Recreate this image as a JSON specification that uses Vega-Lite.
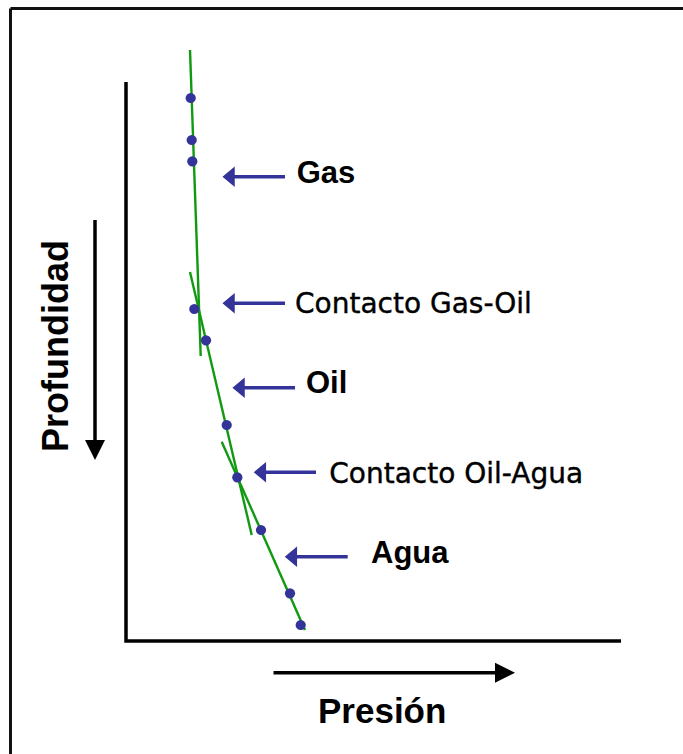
{
  "$schema": "https://vega.github.io/schema/vega-lite/v6.json",
  "width": 683,
  "height": 754,
  "autosize": {"type": "none"},
  "padding": 0,
  "background": "white",
  "config": {"view": {"stroke": null}},
  "datasets": {
    "frame": [
      {"x": -57.75, "x2": 278.5, "y": -36.75, "y2": -36.75},
      {"x": -57.75, "x2": -57.75, "y": -36.75, "y2": 336}
    ],
    "axes": [
      {"presion": 0, "profundidad": 0, "o": 1},
      {"presion": 0, "profundidad": 279.5, "o": 2},
      {"presion": 247.5, "profundidad": 279.5, "o": 3}
    ],
    "tendencias": [
      {"zona": "Gas", "x": 32, "y": -16, "x2": 37.35, "y2": 137},
      {"zona": "Oil", "x": 32, "y": 95, "x2": 62.85, "y2": 226.5},
      {"zona": "Agua", "x": 47.85, "y": 179.85, "x2": 89.5, "y2": 274}
    ],
    "mediciones": [
      {"presion": 32.35, "profundidad": 8},
      {"presion": 32.85, "profundidad": 29},
      {"presion": 33.15, "profundidad": 39.65},
      {"presion": 34.15, "profundidad": 113.5},
      {"presion": 40, "profundidad": 129.15},
      {"presion": 50.35, "profundidad": 171.5},
      {"presion": 55.65, "profundidad": 197.65},
      {"presion": 67.5, "profundidad": 224},
      {"presion": 82, "profundidad": 255.65},
      {"presion": 87.35, "profundidad": 271.5}
    ],
    "flechas": [
      {"head": 53.35, "tail": 79.5, "y": 47.35},
      {"head": 53.35, "tail": 79.5, "y": 110.65},
      {"head": 58.35, "tail": 84.5, "y": 152.85},
      {"head": 69, "tail": 95, "y": 195.15},
      {"head": 84.5, "tail": 110.85, "y": 237.35}
    ],
    "etiquetas_bold": [
      {"x": 85.35, "y": 50.65, "t": "Gas"},
      {"x": 90, "y": 155.65, "t": "Oil"},
      {"x": 122.5, "y": 240.35, "t": "Agua"}
    ],
    "etiquetas_contacto": [
      {"x": 84.5, "y": 115.65, "t": "Contacto Gas-Oil"},
      {"x": 101.65, "y": 200.35, "t": "Contacto Oil-Agua"}
    ],
    "titulo_x": [{"x": 96, "y": 320.5, "t": "Presión"}],
    "titulo_y": [{"x": -29.25, "y": 185, "t": "Profundidad"}],
    "flecha_x": [{"x": 73.75, "x2": 189.5, "y": 295.35}],
    "flecha_y": [{"x": -15.5, "y": 69, "y2": 184}]
  },
  "layer": [
    {
      "data": {"name": "frame"},
      "mark": {"type": "rule", "color": "#111111", "strokeWidth": 3},
      "encoding": {
        "x": {"field": "x", "type": "quantitative", "scale": {"domain": [-63, 278.5], "nice": false, "zero": false}, "axis": null},
        "x2": {"field": "x2"},
        "y": {"field": "y", "type": "quantitative", "scale": {"domain": [-41, 336], "nice": false, "zero": false, "reverse": true}, "axis": null},
        "y2": {"field": "y2"}
      }
    },
    {
      "data": {"name": "axes"},
      "mark": {"type": "line", "color": "black", "strokeWidth": 3.5, "strokeJoin": "miter"},
      "encoding": {
        "x": {"field": "presion", "type": "quantitative", "scale": {"domain": [-63, 278.5], "nice": false, "zero": false}, "axis": null},
        "y": {"field": "profundidad", "type": "quantitative", "scale": {"domain": [-41, 336], "nice": false, "zero": false, "reverse": true}, "axis": null},
        "order": {"field": "o", "type": "quantitative"}
      }
    },
    {
      "data": {"name": "tendencias"},
      "mark": {"type": "rule", "color": "#119a11", "strokeWidth": 2.4},
      "encoding": {
        "x": {"field": "x", "type": "quantitative", "scale": {"domain": [-63, 278.5], "nice": false, "zero": false}, "axis": null},
        "x2": {"field": "x2"},
        "y": {"field": "y", "type": "quantitative", "scale": {"domain": [-41, 336], "nice": false, "zero": false, "reverse": true}, "axis": null},
        "y2": {"field": "y2"}
      }
    },
    {
      "data": {"name": "mediciones"},
      "mark": {"type": "point", "shape": "circle", "filled": true, "opacity": 1, "color": "#333399", "size": 105},
      "encoding": {
        "x": {"field": "presion", "type": "quantitative", "scale": {"domain": [-63, 278.5], "nice": false, "zero": false}, "axis": null},
        "y": {"field": "profundidad", "type": "quantitative", "scale": {"domain": [-41, 336], "nice": false, "zero": false, "reverse": true}, "axis": null}
      }
    },
    {
      "data": {"name": "flechas"},
      "mark": {"type": "rule", "color": "#333399", "strokeWidth": 3.5},
      "encoding": {
        "x": {"field": "head", "type": "quantitative", "scale": {"domain": [-63, 278.5], "nice": false, "zero": false}, "axis": null},
        "x2": {"field": "tail"},
        "y": {"field": "y", "type": "quantitative", "scale": {"domain": [-41, 336], "nice": false, "zero": false, "reverse": true}, "axis": null}
      }
    },
    {
      "data": {"name": "flechas"},
      "mark": {"type": "point", "shape": "M -1 0 L 0.2 -1 L 0.2 1 Z", "filled": true, "opacity": 1, "color": "#333399", "size": 420},
      "encoding": {
        "x": {"field": "head", "type": "quantitative", "scale": {"domain": [-63, 278.5], "nice": false, "zero": false}, "axis": null},
        "y": {"field": "y", "type": "quantitative", "scale": {"domain": [-41, 336], "nice": false, "zero": false, "reverse": true}, "axis": null}
      }
    },
    {
      "data": {"name": "etiquetas_bold"},
      "mark": {"type": "text", "align": "left", "baseline": "alphabetic", "font": "Liberation Sans", "fontWeight": "bold", "fontSize": 31, "color": "black"},
      "encoding": {
        "x": {"field": "x", "type": "quantitative", "scale": {"domain": [-63, 278.5], "nice": false, "zero": false}, "axis": null},
        "y": {"field": "y", "type": "quantitative", "scale": {"domain": [-41, 336], "nice": false, "zero": false, "reverse": true}, "axis": null},
        "text": {"field": "t"}
      }
    },
    {
      "data": {"name": "etiquetas_contacto"},
      "mark": {"type": "text", "align": "left", "baseline": "alphabetic", "font": "DejaVu Sans", "fontSize": 28, "color": "black", "stroke": "black", "strokeWidth": 0.4},
      "encoding": {
        "x": {"field": "x", "type": "quantitative", "scale": {"domain": [-63, 278.5], "nice": false, "zero": false}, "axis": null},
        "y": {"field": "y", "type": "quantitative", "scale": {"domain": [-41, 336], "nice": false, "zero": false, "reverse": true}, "axis": null},
        "text": {"field": "t"}
      }
    },
    {
      "data": {"name": "titulo_x"},
      "mark": {"type": "text", "align": "left", "baseline": "alphabetic", "font": "Liberation Sans", "fontWeight": "bold", "fontSize": 35, "color": "black"},
      "encoding": {
        "x": {"field": "x", "type": "quantitative", "scale": {"domain": [-63, 278.5], "nice": false, "zero": false}, "axis": null},
        "y": {"field": "y", "type": "quantitative", "scale": {"domain": [-41, 336], "nice": false, "zero": false, "reverse": true}, "axis": null},
        "text": {"field": "t"}
      }
    },
    {
      "data": {"name": "titulo_y"},
      "mark": {"type": "text", "align": "left", "baseline": "alphabetic", "angle": 270, "font": "Liberation Sans", "fontWeight": "bold", "fontSize": 36, "color": "black"},
      "encoding": {
        "x": {"field": "x", "type": "quantitative", "scale": {"domain": [-63, 278.5], "nice": false, "zero": false}, "axis": null},
        "y": {"field": "y", "type": "quantitative", "scale": {"domain": [-41, 336], "nice": false, "zero": false, "reverse": true}, "axis": null},
        "text": {"field": "t"}
      }
    },
    {
      "data": {"name": "flecha_x"},
      "mark": {"type": "rule", "color": "black", "strokeWidth": 3.5},
      "encoding": {
        "x": {"field": "x", "type": "quantitative", "scale": {"domain": [-63, 278.5], "nice": false, "zero": false}, "axis": null},
        "x2": {"field": "x2"},
        "y": {"field": "y", "type": "quantitative", "scale": {"domain": [-41, 336], "nice": false, "zero": false, "reverse": true}, "axis": null}
      }
    },
    {
      "data": {"name": "flecha_x"},
      "mark": {"type": "point", "shape": "M 1 0 L -1 -1 L -1 1 Z", "filled": true, "opacity": 1, "color": "black", "size": 400},
      "encoding": {
        "x": {"field": "x2", "type": "quantitative", "scale": {"domain": [-63, 278.5], "nice": false, "zero": false}, "axis": null},
        "y": {"field": "y", "type": "quantitative", "scale": {"domain": [-41, 336], "nice": false, "zero": false, "reverse": true}, "axis": null}
      }
    },
    {
      "data": {"name": "flecha_y"},
      "mark": {"type": "rule", "color": "black", "strokeWidth": 3.5},
      "encoding": {
        "x": {"field": "x", "type": "quantitative", "scale": {"domain": [-63, 278.5], "nice": false, "zero": false}, "axis": null},
        "y": {"field": "y", "type": "quantitative", "scale": {"domain": [-41, 336], "nice": false, "zero": false, "reverse": true}, "axis": null},
        "y2": {"field": "y2"}
      }
    },
    {
      "data": {"name": "flecha_y"},
      "mark": {"type": "point", "shape": "M 0 1 L -1 -1 L 1 -1 Z", "filled": true, "opacity": 1, "color": "black", "size": 400},
      "encoding": {
        "x": {"field": "x", "type": "quantitative", "scale": {"domain": [-63, 278.5], "nice": false, "zero": false}, "axis": null},
        "y": {"field": "y2", "type": "quantitative", "scale": {"domain": [-41, 336], "nice": false, "zero": false, "reverse": true}, "axis": null}
      }
    }
  ]
}
